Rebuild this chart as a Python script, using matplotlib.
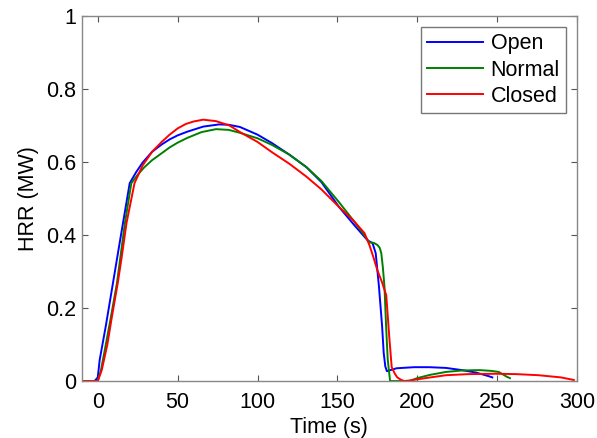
import numpy as np
import matplotlib.pyplot as plt

plt.rcParams['font.family'] = ['Liberation Sans', 'DejaVu Sans']

# Open (blue)
t_open = [-10, -2, 0, 1.2, 5, 9.5, 13, 15.8, 20, 24, 28, 34, 40, 45, 50, 56, 66, 76, 82, 89,
          100, 109, 120, 130.6, 140, 151, 160.6, 165, 169, 172, 174, 176, 178, 179, 180, 181,
          184, 187, 198, 207.5, 218, 228, 237, 245, 247]
hrr_open = [0, 0, 0.01, 0.058, 0.15, 0.268, 0.36, 0.433, 0.542, 0.572, 0.598, 0.628, 0.648,
            0.662, 0.673, 0.683, 0.697, 0.703, 0.702, 0.696, 0.675, 0.652, 0.62, 0.586, 0.545,
            0.477, 0.427, 0.405, 0.385, 0.378, 0.35, 0.26, 0.15, 0.077, 0.04, 0.027, 0.031,
            0.035, 0.038, 0.038, 0.036, 0.03, 0.023, 0.013, 0.01]

# Normal (green)
t_normal = [-10, 0, 2, 4.4, 8, 12, 17, 21, 25, 29, 34, 40, 45, 50, 56, 65, 74, 82, 89, 100,
            109, 120, 130.6, 140, 151, 160, 166, 170, 173, 175, 176.5, 177.5, 178.5, 179.5,
            180.5, 181.5, 183, 190, 195, 200, 208, 218, 228, 239, 246, 251, 256, 258]
hrr_normal = [0, 0, 0.03, 0.085, 0.17, 0.268, 0.433, 0.542, 0.565, 0.585, 0.605, 0.624, 0.64,
              0.653, 0.666, 0.682, 0.69, 0.688, 0.68, 0.665, 0.647, 0.62, 0.586, 0.548, 0.49,
              0.44, 0.405, 0.38, 0.378, 0.373, 0.365, 0.35, 0.31, 0.257, 0.15, 0.06, 0, 0, 0,
              0.008, 0.017, 0.025, 0.029, 0.03, 0.028, 0.025, 0.012, 0.008]

# Closed (red)
t_closed = [-10, 0, 2.5, 6, 9, 12.5, 15, 18, 23, 28, 34, 40, 45, 50, 55, 60, 66, 74, 82.5, 89,
            100, 109, 120, 130.6, 140, 151, 160, 167, 170, 172.5, 175, 178, 180.6, 182.5, 184,
            186, 187.5, 190, 192, 196, 205, 218, 232, 249, 262, 276, 290, 298]
hrr_closed = [0, 0, 0.03, 0.1, 0.18, 0.268, 0.34, 0.433, 0.542, 0.59, 0.628, 0.655, 0.675,
              0.692, 0.704, 0.711, 0.716, 0.712, 0.7, 0.682, 0.655, 0.627, 0.595, 0.56, 0.525,
              0.477, 0.44, 0.405, 0.373, 0.34, 0.304, 0.27, 0.235, 0.12, 0.038, 0.02, 0.01,
              0.003, 0, 0.002, 0.008, 0.016, 0.019, 0.02, 0.019, 0.016, 0.01, 0.003]

fig = plt.figure(figsize=(5.97, 4.38), dpi=100)
ax = fig.add_axes([0.137, 0.130, 0.8295, 0.8335])

ax.plot(t_open, hrr_open, color='#0000ff', lw=1.4, label='Open')
ax.plot(t_normal, hrr_normal, color='#008000', lw=1.4, label='Normal')
ax.plot(t_closed, hrr_closed, color='#ff0000', lw=1.4, label='Closed')

ax.set_xlim(-10, 300)
ax.set_ylim(0, 1)
ax.set_xticks([0, 50, 100, 150, 200, 250, 300])
ax.set_yticks([0, 0.2, 0.4, 0.6, 0.8, 1])
ax.set_yticklabels(['0', '0.2', '0.4', '0.6', '0.8', '1'])
ax.tick_params(direction='in', length=4, width=0.8, color='#555555', labelsize=15.5,
               top=True, right=True, pad=4)
ax.tick_params(axis='x', pad=8)
for s in ax.spines.values():
    s.set_color('#888888')
    s.set_linewidth(1.0)

ax.set_xlabel('Time (s)', fontsize=15.5, labelpad=3)
ax.set_ylabel('HRR (MW)', fontsize=15.5, labelpad=5)

leg = ax.legend(loc='upper right', fontsize=15.5, fancybox=False, framealpha=1,
                handlelength=2.6, handletextpad=0.35, borderpad=0.3, labelspacing=0.25,
                borderaxespad=0.5)
leg.get_frame().set_edgecolor('#777777')
leg.get_frame().set_linewidth(1.0)

fig.savefig('out.png', dpi=100)
